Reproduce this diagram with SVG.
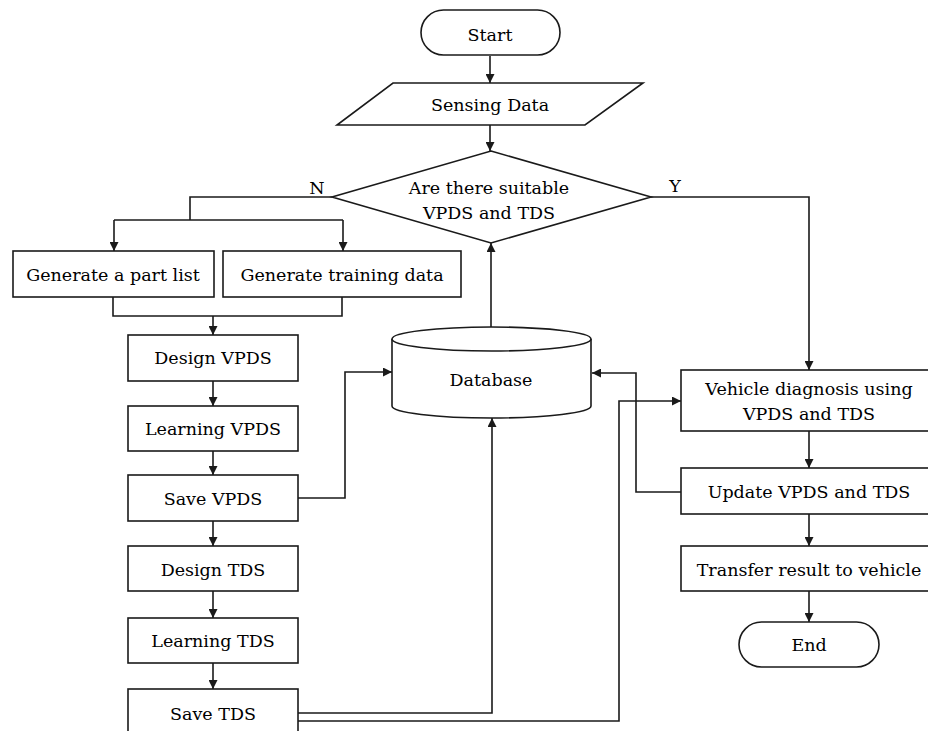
<svg xmlns="http://www.w3.org/2000/svg" width="928" height="731" viewBox="0 0 928 731">
  <style>
    .shape { fill: #ffffff; stroke: #1a1a1a; stroke-width: 1.6; }
    .lbl { font-family: "DejaVu Serif", "Liberation Serif", serif; font-size: 17.5px; fill: #000000; text-anchor: middle; dominant-baseline: central; }
    .flow { fill: none; stroke: #1a1a1a; stroke-width: 1.6; }
    .flow-arrow { fill: none; stroke: #1a1a1a; stroke-width: 1.6; marker-end: url(#arrow); }
  </style>
  <defs>
    <marker id="arrow" viewBox="0 0 10 10" refX="10" refY="5" markerWidth="9" markerHeight="9" markerUnits="userSpaceOnUse" orient="auto">
      <path d="M0,0 L10,5 L0,10 z" fill="#1a1a1a"/>
    </marker>
  </defs>
  <rect width="928" height="731" fill="#ffffff"/>

  <g id="connectors">
    <path class="flow-arrow" d="M490,56 V83"/>
    <path class="flow-arrow" d="M490,125 V151"/>
    <!-- N branch -->
    <path class="flow" d="M332,197 H190 V220"/>
    <path class="flow-arrow" d="M114,220 V251"/>
    <path class="flow-arrow" d="M343,220 V251"/>
    <path class="flow" d="M114,220 H343"/>
    <path class="flow" d="M113,297 V316 H342 V297"/>
    <path class="flow-arrow" d="M213,316 V335"/>
    <!-- left column -->
    <path class="flow-arrow" d="M213,381 V406"/>
    <path class="flow-arrow" d="M213,451 V475"/>
    <path class="flow-arrow" d="M213,521 V546"/>
    <path class="flow-arrow" d="M213,591 V618"/>
    <path class="flow-arrow" d="M213,663 V689"/>
    <!-- database links -->
    <path class="flow-arrow" d="M491,327 V243"/>
    <path class="flow-arrow" d="M298,498 H345 V372 H392"/>
    <path class="flow-arrow" d="M298,713 H492 V418"/>
    <path class="flow-arrow" d="M298,721 H619 V401 H681"/>
    <path class="flow-arrow" d="M681,492 H636 V373 H592"/>
    <!-- Y branch and right column -->
    <path class="flow-arrow" d="M651,197 H809 V370"/>
    <path class="flow-arrow" d="M809,431 V468"/>
    <path class="flow-arrow" d="M809,514 V546"/>
    <path class="flow-arrow" d="M809,591 V622"/>
    <text class="lbl" x="317" y="188">N</text>
    <text class="lbl" x="675" y="186">Y</text>
  </g>

  <g id="start">
    <rect class="shape" x="421" y="10" width="139" height="45" rx="22.5"/>
    <text class="lbl" x="490" y="35">Start</text>
  </g>
  <g id="sensing-data">
    <polygon class="shape" points="393,83 643,83 585,125 337,125"/>
    <text class="lbl" x="490" y="105">Sensing Data</text>
  </g>
  <g id="decision">
    <polygon class="shape" points="491,151 651,197 491,243 332,197"/>
    <text class="lbl" x="489" y="188">Are there suitable</text>
    <text class="lbl" x="489" y="213">VPDS and TDS</text>
  </g>
  <g id="part-list">
    <rect class="shape" x="13" y="251" width="201" height="46"/>
    <text class="lbl" x="113" y="275">Generate a part list</text>
  </g>
  <g id="training-data">
    <rect class="shape" x="223" y="251" width="238" height="46"/>
    <text class="lbl" x="342" y="275">Generate training data</text>
  </g>
  <g id="design-vpds">
    <rect class="shape" x="128" y="335" width="170" height="46"/>
    <text class="lbl" x="213" y="358">Design VPDS</text>
  </g>
  <g id="learning-vpds">
    <rect class="shape" x="128" y="406" width="170" height="45"/>
    <text class="lbl" x="213" y="429">Learning VPDS</text>
  </g>
  <g id="save-vpds">
    <rect class="shape" x="128" y="475" width="170" height="46"/>
    <text class="lbl" x="213" y="499">Save VPDS</text>
  </g>
  <g id="design-tds">
    <rect class="shape" x="128" y="546" width="170" height="45"/>
    <text class="lbl" x="213" y="570">Design TDS</text>
  </g>
  <g id="learning-tds">
    <rect class="shape" x="128" y="618" width="170" height="45"/>
    <text class="lbl" x="213" y="641">Learning TDS</text>
  </g>
  <g id="save-tds">
    <rect class="shape" x="128" y="689" width="170" height="60"/>
    <text class="lbl" x="213" y="714">Save TDS</text>
  </g>
  <g id="database">
    <path class="shape" d="M392,339 V406 A99.5,12 0 0 0 591,406 V339"/>
    <ellipse class="shape" cx="491.5" cy="339" rx="99.5" ry="12"/>
    <text class="lbl" x="491" y="380">Database</text>
  </g>
  <g id="diagnosis">
    <rect class="shape" x="681" y="370" width="260" height="61"/>
    <text class="lbl" x="809" y="389">Vehicle diagnosis using</text>
    <text class="lbl" x="809" y="414">VPDS and TDS</text>
  </g>
  <g id="update">
    <rect class="shape" x="681" y="468" width="260" height="46"/>
    <text class="lbl" x="809" y="492">Update VPDS and TDS</text>
  </g>
  <g id="transfer">
    <rect class="shape" x="681" y="546" width="260" height="45"/>
    <text class="lbl" x="809" y="570">Transfer result to vehicle</text>
  </g>
  <g id="end">
    <rect class="shape" x="739" y="622" width="140" height="45" rx="22.5"/>
    <text class="lbl" x="809" y="645">End</text>
  </g>
</svg>
